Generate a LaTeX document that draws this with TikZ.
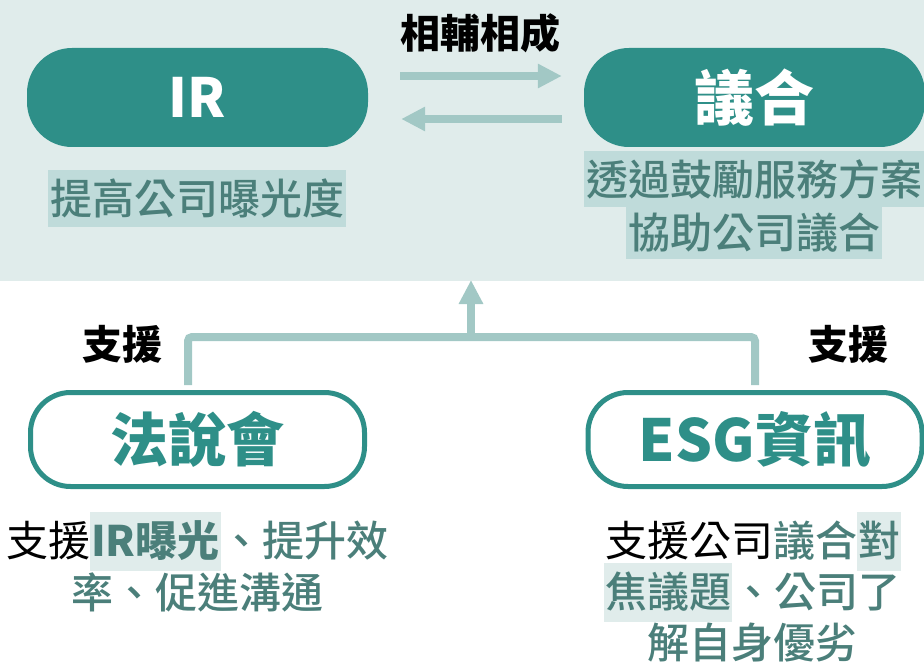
\documentclass[tikz,border=0pt]{standalone}
\usepackage{fontspec}
\setmainfont{Noto Sans CJK TC}
\newfontfamily\cjkm{Noto Sans CJK TC Medium}
\usetikzlibrary{arrows.meta}
\definecolor{bgtop}{HTML}{E0ECEB}
\definecolor{tealc}{HTML}{2E8F88}
\definecolor{arrc}{HTML}{A2C8C5}
\definecolor{hlA}{HTML}{BFDBDA}
\definecolor{hlB}{HTML}{E0ECEB}
\definecolor{txtc}{HTML}{4B7F7A}
\newcommand\hlb[1]{{\setlength{\fboxsep}{1pt}\colorbox{hlB}{\rule[-13pt]{0pt}{57pt}#1}}}
\begin{document}
\begin{tikzpicture}[x=1pt,y=-1pt,
 tbox/.style={fill=tealc, rounded corners=45pt, minimum width=341pt, minimum height=99pt, inner sep=0pt, text=white, font=\bfseries\fontsize{54}{60}\selectfont},
 obox/.style={draw=tealc, line width=5pt, fill=white, rounded corners=40pt, minimum width=334pt, minimum height=94pt, inner sep=0pt, text=tealc, font=\bfseries\fontsize{58}{64}\selectfont},
 hlnode/.style={fill=hlA, inner sep=0pt, text=txtc, font=\cjkm\fontsize{42}{50}\selectfont},
 desc/.style={inner sep=0pt, font=\fontsize{42}{51}\selectfont},
 lbl/.style={font=\bfseries\fontsize{40}{48}\selectfont, text=black},
 arr/.style={draw=arrc, line width=8pt, -{Triangle[length=24pt,width=23pt]}},
 link/.style={draw=arrc, line width=8pt, rounded corners=4pt}]
\fill[bgtop] (0,0) rectangle (924,281);
\useasboundingbox (0,0) rectangle (924,663);
% top
\node[tbox] (IR) at (197.5,97.5) {IR};
\node[tbox, font=\bfseries\fontsize{60}{66}\selectfont] (YH) at (754.5,97.5) {議合};
\node[lbl] (xfxc) at (480,33) {相輔相成};
\draw[arr, shorten <=32pt, shorten >=22pt] ([yshift=21.5pt]IR.east) -- ([yshift=21.5pt]YH.west);
\draw[arr, shorten <=22pt, shorten >=33pt] ([yshift=-21.5pt]YH.west) -- ([yshift=-21.5pt]IR.east);
\node[hlnode, minimum width=298pt, minimum height=57pt] (d1) at (197,198.5) {提高公司曝光度};
\node[hlnode, minimum width=340pt, minimum height=56pt] (d2a) at (754,179) {透過鼓勵服務方案};
\node[hlnode, minimum width=256pt, minimum height=52pt] (d2b) at (754,233) {協助公司議合};
% bottom
\node[obox] (FSH) at (197.5,439.5) {法說會};
\node[obox] (ESG) at (755,439.5) {ESG資訊};
\coordinate (junc) at (471,337);
\coordinate (topc) at (471,280);
\draw[link, shorten <=5pt, shorten >=5pt] ([xshift=-9.5pt]FSH.north) |- (junc) -| (ESG.north);
\draw[arr] (junc) -- (topc);
\node[lbl] (s1) at (122,344) {支援};
\node[lbl] (s2) at (848,344) {支援};
\node[desc] (L1) at (197.5,541) {支援\hlb{\textcolor{txtc}{\bfseries IR曝光}}\textcolor{txtc}{\cjkm 、提升效}};
\node[desc] (L2) at (197,592) {\textcolor{txtc}{\cjkm 率、促進溝通}};
\node[desc] (R1) at (753,541) {支援公司\textcolor{txtc}{\cjkm 議合}\hlb{\textcolor{txtc}{\cjkm 對}}};
\node[desc] (R2) at (752,592) {\hlb{\textcolor{txtc}{\cjkm 焦議題}}\textcolor{txtc}{\cjkm 、公司了}};
\node[desc] (R3) at (752,643) {\textcolor{txtc}{\cjkm 解自身優劣}};
\end{tikzpicture}
\end{document}
